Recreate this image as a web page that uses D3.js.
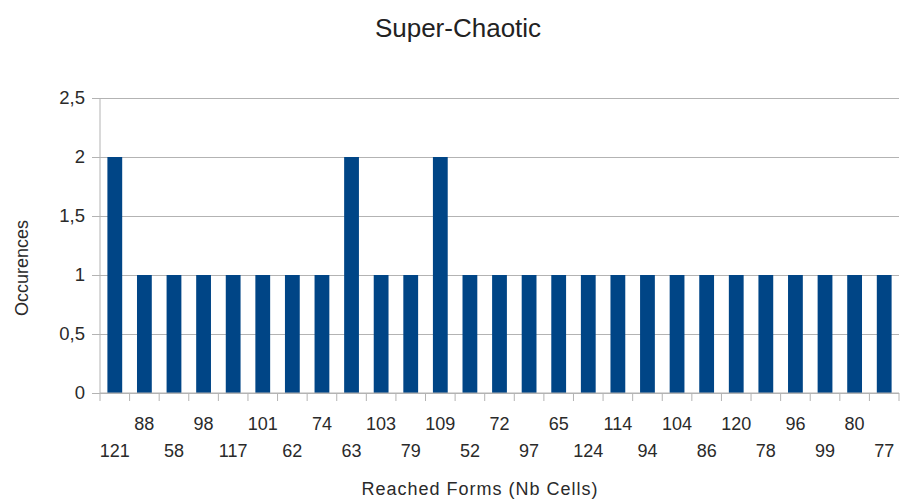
<!DOCTYPE html>
<html>
<head>
<meta charset="utf-8">
<script src="https://cdn.jsdelivr.net/npm/d3@7"></script>
<style>
  body { margin: 0; background: #fff; }
  svg { display: block; font-family: "Liberation Sans", Arial, sans-serif; }
</style>
</head>
<body>
<div id="chart"></div>
<script>
// Reached forms (number of cells) and how often each one occurred
const categories = ['121', '88', '58', '98', '117', '101', '62', '74', '63', '103', '79', '109', '52', '72',
  '97', '65', '124', '114', '94', '104', '86', '120', '78', '96', '99', '80', '77'];
const occurences = [2, 1, 1, 1, 1, 1, 1, 1, 2, 1, 1, 2, 1, 1, 1, 1, 1, 1, 1, 1, 1, 1, 1, 1, 1, 1, 1];
const yTicks = [0, 0.5, 1, 1.5, 2, 2.5];

const width = 902, height = 500;
const margin = { top: 98, right: 3, bottom: 107, left: 100 };

const svg = d3.select('#chart').append('svg')
  .attr('width', width)
  .attr('height', height);

const x = d3.scaleBand()
  .domain(categories)
  .range([margin.left, width - margin.right])
  .paddingInner(0.5)
  .paddingOuter(0.25);

const y = d3.scaleLinear()
  .domain([0, 2.5])
  .range([height - margin.bottom, margin.top]);

const fmt = d => String(d).replace('.', ',');

// Grid + y axis
svg.append('g')
  .attr('transform', `translate(${margin.left},0)`)
  .call(d3.axisLeft(y).tickValues(yTicks).tickFormat(fmt)
    .tickSize(-(width - margin.right - margin.left)).tickPadding(15))
  .call(g => g.select('.domain').remove())
  .call(g => g.selectAll('.tick line').attr('stroke', '#b3b3b3'))
  .call(g => g.selectAll('.tick').append('line')
    .attr('x1', -8).attr('x2', 0).attr('stroke', '#b3b3b3'))
  .call(g => g.selectAll('.tick text')
    .style('font-size', '18.5px').attr('fill', '#2a2a2a'));

// Bars
svg.append('g')
  .selectAll('rect')
  .data(categories)
  .join('rect')
  .attr('x', d => x(d))
  .attr('y', (d, i) => y(occurences[i]))
  .attr('width', x.bandwidth())
  .attr('height', (d, i) => y(0) - y(occurences[i]))
  .attr('fill', '#004586');

// Axis lines
svg.append('line')
  .attr('x1', margin.left).attr('x2', margin.left)
  .attr('y1', y(2.5)).attr('y2', y(0))
  .attr('stroke', '#b3b3b3');
svg.append('line')
  .attr('x1', margin.left).attr('x2', width - margin.right)
  .attr('y1', y(0)).attr('y2', y(0))
  .attr('stroke', '#b3b3b3');

// Category boundary ticks
const step = x.step();
svg.append('g')
  .selectAll('line')
  .data(d3.range(categories.length + 1))
  .join('line')
  .attr('x1', i => x(categories[0]) - step * 0.25 + i * step)
  .attr('x2', i => x(categories[0]) - step * 0.25 + i * step)
  .attr('y1', y(0))
  .attr('y2', y(0) + 8)
  .attr('stroke', '#b3b3b3');

// Category labels, staggered on two rows
svg.append('g')
  .selectAll('text')
  .data(categories)
  .join('text')
  .attr('x', d => x(d) + x.bandwidth() / 2)
  .attr('y', (d, i) => i % 2 === 0 ? 457 : 430)
  .attr('text-anchor', 'middle')
  .style('font-size', '18px')
  .attr('fill', '#2a2a2a')
  .text(d => d);

// Titles
svg.append('text')
  .attr('x', 458).attr('y', 37)
  .attr('text-anchor', 'middle')
  .style('font-size', '26px')
  .attr('fill', '#222')
  .text('Super-Chaotic');

svg.append('text')
  .attr('x', 480).attr('y', 495)
  .attr('text-anchor', 'middle')
  .style('font-size', '18px')
  .style('letter-spacing', '1px')
  .attr('fill', '#2a2a2a')
  .text('Reached Forms (Nb Cells)');

svg.append('text')
  .attr('transform', 'translate(28,268) rotate(-90)')
  .attr('text-anchor', 'middle')
  .style('font-size', '18px')
  .attr('fill', '#2a2a2a')
  .text('Occurences');
</script>
</body>
</html>
